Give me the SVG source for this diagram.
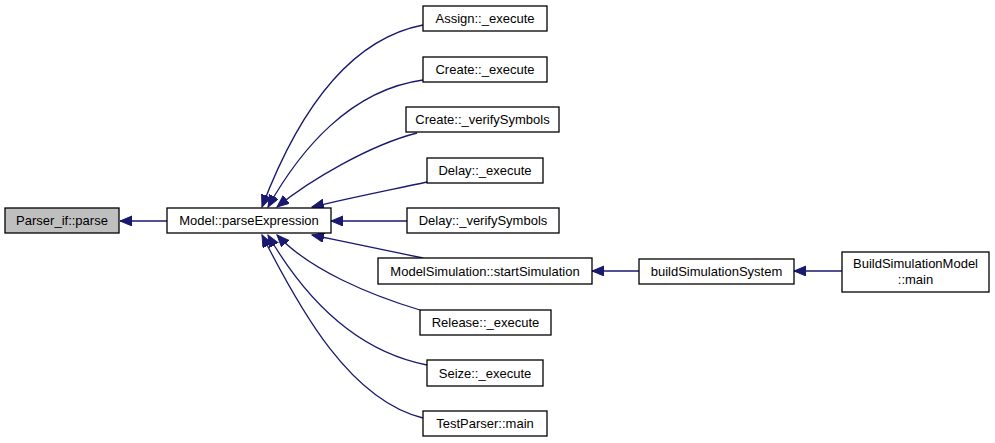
<svg xmlns="http://www.w3.org/2000/svg" width="995" height="443" viewBox="0 0 995 443">
<defs>
<style>
.n rect{fill:#fff;stroke:#000;stroke-width:1.3}
.n text{font-family:"Liberation Sans",Arial,sans-serif;font-size:13px;text-anchor:middle;fill:#000}
.e path{fill:none;stroke:#191970;stroke-width:1.3}
</style>
<marker id="a" markerUnits="userSpaceOnUse" markerWidth="14" markerHeight="12" refX="12" refY="5" orient="auto" viewBox="0 0 14 12">
<path d="M0,0 L12,5 L0,10 Z" fill="#191970" stroke="#191970"/>
</marker>
</defs>
<rect width="995" height="443" fill="#fff"/>
<g class="e">
<path d="M167,221 L120,221" marker-end="url(#a)"/>
<path d="M423,25 C345,40 295,120 262,207" marker-end="url(#a)"/>
<path d="M423,80 C350,90 300,150 268,207" marker-end="url(#a)"/>
<path d="M417,133 C370,145 310,180 277,207" marker-end="url(#a)"/>
<path d="M427,182 C390,190 350,198 312,207" marker-end="url(#a)"/>
<path d="M407,221 L331,221" marker-end="url(#a)"/>
<path d="M423,258 C390,251 350,243 312,235" marker-end="url(#a)"/>
<path d="M420,310 C370,295 310,270 277,235" marker-end="url(#a)"/>
<path d="M427,365 C350,350 300,290 268,235" marker-end="url(#a)"/>
<path d="M423,418 C350,400 300,310 262,235" marker-end="url(#a)"/>
<path d="M639,271 L592,271" marker-end="url(#a)"/>
<path d="M842,271 L794,271" marker-end="url(#a)"/>
</g>
<g id="parser" class="n"><rect x="5" y="208" width="114" height="25" style="fill:#bfbfbf"/><text x="62" y="225">Parser_if::parse</text></g>
<g id="model" class="n"><rect x="167" y="208" width="164" height="25"/><text x="249" y="225">Model::parseExpression</text></g>
<g id="assign" class="n"><rect x="423" y="6" width="124" height="25"/><text x="485" y="23">Assign::_execute</text></g>
<g id="create" class="n"><rect x="423" y="57" width="124" height="25"/><text x="485" y="74">Create::_execute</text></g>
<g id="createv" class="n"><rect x="406" y="107" width="153" height="25"/><text x="482.5" y="124">Create::_verifySymbols</text></g>
<g id="delay" class="n"><rect x="427" y="158" width="116" height="25"/><text x="485" y="175">Delay::_execute</text></g>
<g id="delayv" class="n"><rect x="407" y="208" width="152" height="25"/><text x="483" y="225">Delay::_verifySymbols</text></g>
<g id="modelsim" class="n"><rect x="378" y="258" width="214" height="26"/><text x="485" y="276">ModelSimulation::startSimulation</text></g>
<g id="release" class="n"><rect x="420" y="310" width="131" height="25"/><text x="485.5" y="327">Release::_execute</text></g>
<g id="seize" class="n"><rect x="427" y="360" width="116" height="26"/><text x="485" y="378">Seize::_execute</text></g>
<g id="testparser" class="n"><rect x="423" y="411" width="124" height="25"/><text x="485" y="428">TestParser::main</text></g>
<g id="buildsys" class="n"><rect x="639" y="259" width="155" height="25"/><text x="716.5" y="276">buildSimulationSystem</text></g>
<g id="buildmain" class="n"><rect x="842" y="252" width="147" height="40"/><text x="915.5" y="268">BuildSimulationModel</text><text x="915.5" y="284">::main</text></g>
</svg>
